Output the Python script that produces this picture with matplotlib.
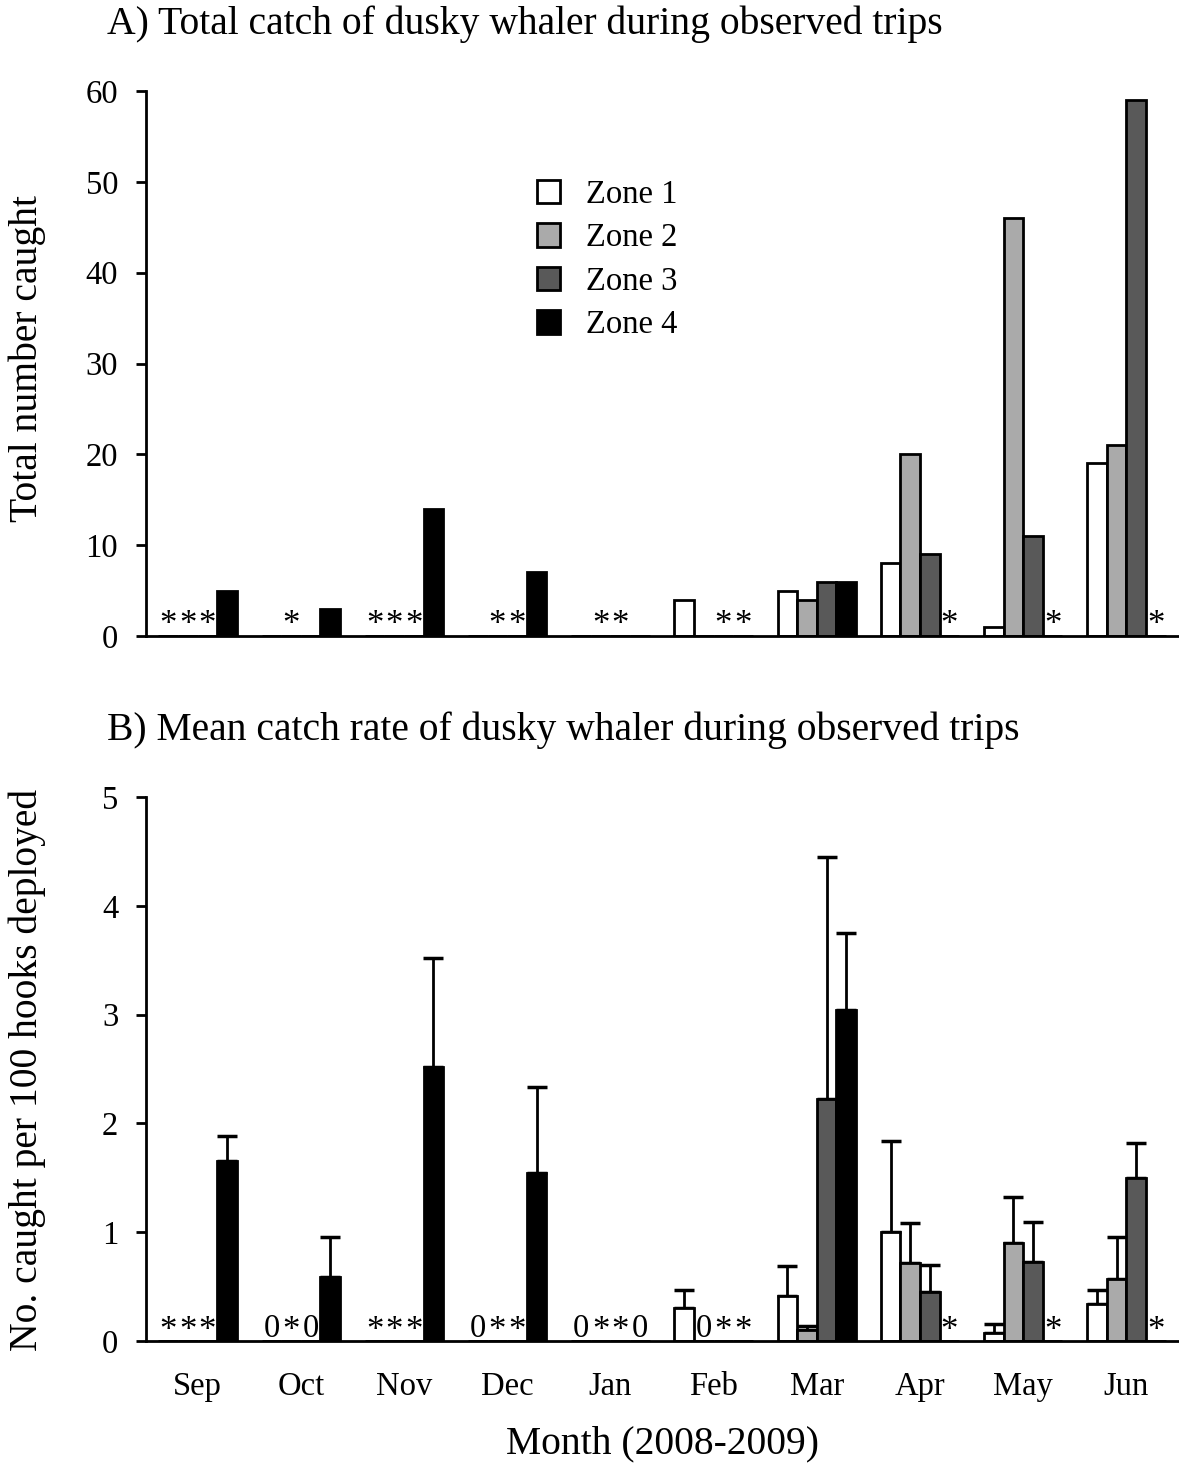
import numpy as np
import matplotlib.pyplot as plt

plt.rcParams['font.family'] = ['Liberation Serif', 'DejaVu Serif']

months = ['Sep', 'Oct', 'Nov', 'Dec', 'Jan', 'Feb', 'Mar', 'Apr', 'May', 'Jun']
zones = ['Zone 1', 'Zone 2', 'Zone 3', 'Zone 4']
zone_colors = ['white', '#aaaaaa', '#595959', 'black']

nan = np.nan
# nan = no data (shown as *), 0 = zero catch
total_z1 = [nan, 0, nan, 0, 0, 4, 5, 8, 1, 19]
total_z2 = [nan, nan, nan, nan, nan, 0, 4, 20, 46, 21]
total_z3 = [nan, 0, nan, nan, nan, nan, 6, 9, 11, 59]
total_z4 = [5, 3, 14, 7, 0, nan, 6, nan, nan, nan]

rate_z1 = [nan, 0, nan, 0, 0, 0.30, 0.41, 1.00, 0.07, 0.34]
rate_z2 = [nan, nan, nan, nan, nan, 0, 0.10, 0.72, 0.90, 0.57]
rate_z3 = [nan, 0, nan, nan, nan, nan, 2.22, 0.45, 0.73, 1.50]
rate_z4 = [1.65, 0.59, 2.52, 1.54, 0, nan, 3.04, nan, nan, nan]

err_z1 = [nan, 0, nan, 0, 0, 0.17, 0.28, 0.84, 0.09, 0.13]
err_z2 = [nan, nan, nan, nan, nan, 0, 0.04, 0.36, 0.42, 0.39]
err_z3 = [nan, 0, nan, nan, nan, nan, 2.23, 0.25, 0.36, 0.32]
err_z4 = [0.23, 0.37, 1.00, 0.79, 0, nan, 0.71, nan, nan, nan]

totals = [total_z1, total_z2, total_z3, total_z4]
rates = [rate_z1, rate_z2, rate_z3, rate_z4]
errs = [err_z1, err_z2, err_z3, err_z4]

W, H = 1179, 1465
fig = plt.figure(figsize=(W / 100, H / 100), dpi=100)
axA = fig.add_axes([146 / W, 1 - 636 / H, 1032 / W, 545 / H])
axB = fig.add_axes([146 / W, 1 - 1341 / H, 1032 / W, 544 / H])

x = np.arange(len(months))
width = 0.19
offsets = (np.arange(4) - 1.5) * width


def style_axis(ax, ymax, step):
    ax.set_xlim(-0.5, 9.5)
    ax.set_ylim(0, ymax)
    ax.set_yticks(np.arange(0, ymax + step / 2, step))
    for s in ['top', 'right']:
        ax.spines[s].set_visible(False)
    for s in ['left', 'bottom']:
        ax.spines[s].set_linewidth(2)
    ax.tick_params(axis='y', direction='out', length=7, width=2, pad=13, labelsize=23.5)
    ax.tick_params(axis='x', length=0, labelsize=23.5, pad=22)


# Panel A
for i in range(4):
    vals = np.array(totals[i], dtype=float)
    axA.bar(x + offsets[i], np.nan_to_num(vals), width, color=zone_colors[i],
            edgecolor='black', linewidth=2, label=zones[i], zorder=2)
    for j, v in enumerate(vals):
        if np.isnan(v):
            axA.annotate('*', (x[j] + offsets[i], 0), xytext=(0, 1.5),
                         textcoords='offset points', ha='center', va='baseline',
                         fontsize=25)
style_axis(axA, 60, 10)
axA.set_xticks([])
leg = axA.legend(loc='upper left', bbox_to_anchor=(0.366, 0.862), frameon=False,
                 fontsize=23.5, handlelength=0.72, handleheight=0.72,
                 handletextpad=0.8, labelspacing=0.4, borderaxespad=0)

# Panel B
for i in range(4):
    vals = np.array(rates[i], dtype=float)
    e = np.array(errs[i], dtype=float)
    pos = x + offsets[i]
    axB.bar(pos, np.nan_to_num(vals), width, color=zone_colors[i],
            edgecolor='black', linewidth=2, zorder=2)
    show = np.nan_to_num(vals) > 0
    axB.errorbar(pos[show], vals[show],
                 yerr=[np.zeros(show.sum()), e[show]],
                 fmt='none', ecolor='black', elinewidth=2, capsize=7.5,
                 capthick=2.5, zorder=1)
    for j, v in enumerate(vals):
        if np.isnan(v):
            axB.annotate('*', (pos[j], 0), xytext=(0, 0.5),
                         textcoords='offset points', ha='center', va='baseline',
                         fontsize=25)
        elif v == 0:
            axB.annotate('0', (pos[j], 0), xytext=(0, 3),
                         textcoords='offset points', ha='center', va='baseline',
                         fontsize=23.5)
style_axis(axB, 5, 1)
axB.set_xticks(x)
axB.set_xticklabels(months)

fig.text(107 / W, 1 - 24 / H, 'A) Total catch of dusky whaler during observed trips',
         ha='left', va='center', fontsize=28.5)
fig.text(107 / W, 1 - 730 / H, 'B) Mean catch rate of dusky whaler during observed trips',
         ha='left', va='center', fontsize=28.5)
fig.text(27 / W, 1 - 358 / H, 'Total number caught', rotation=90,
         ha='center', va='center', fontsize=28.5)
fig.text(27 / W, 1 - 1070 / H, 'No. caught per 100 hooks deployed', rotation=90,
         ha='center', va='center', fontsize=28.5)
fig.text(663 / W, 1 - 1444 / H, 'Month (2008-2009)', ha='center', va='center',
         fontsize=28.5)

fig.savefig('out.png', dpi=100)
